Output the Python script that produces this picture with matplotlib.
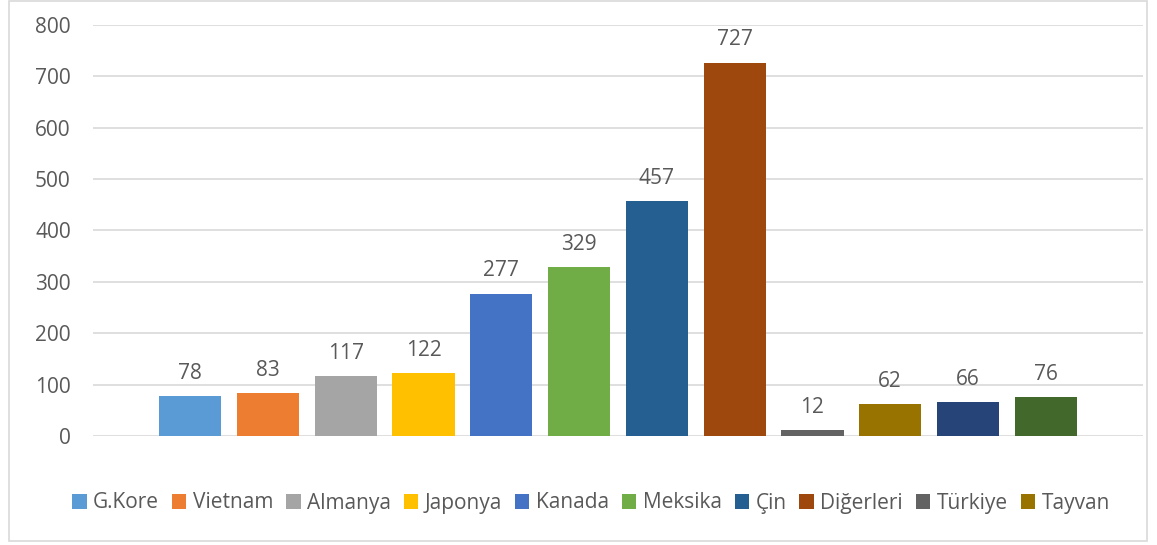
import matplotlib
matplotlib.use("Agg")
import matplotlib.pyplot as plt
from matplotlib.patches import Rectangle, Patch

categories = ["G.Kore", "Vietnam", "Almanya", "Japonya", "Kanada", "Meksika",
              "Çin", "Diğerleri", "Türkiye", "Tayvan", "Diğer 1", "Diğer 2"]
values = [78, 83, 117, 122, 277, 329, 457, 727, 12, 62, 66, 76]
colors = ["#5B9BD5", "#ED7D31", "#A5A5A5", "#FFC000", "#4472C4", "#70AD47",
          "#255E91", "#9E480E", "#636363", "#997300", "#264478", "#43682B"]
legend_count = 10
yticks = [0, 100, 200, 300, 400, 500, 600, 700, 800]

plt.rcParams['font.family'] = ['Open Sans', 'DejaVu Sans']
txt = "#595959"
fs = 15

fig = plt.figure(figsize=(11.57, 5.45), dpi=100)
fig.patches.append(Rectangle((9/1157, 4/545), 1138/1157, 540/545, transform=fig.transFigure,
                             fill=False, edgecolor="#D9D9D9", linewidth=1.2))
ax = fig.add_axes([93/1157, 109/545, 1050/1157, 411/545])

x = list(range(len(values)))
bars = ax.bar(x, values, width=0.8, color=colors, zorder=3)
for xi, v in zip(x, values):
    ax.text(xi, v + 24, str(v), ha="center", va="bottom", fontsize=fs, color=txt)

ax.set_xlim(-1.25, len(values) - 1 + 1.25)
ax.set_ylim(0, 800)
ax.set_yticks(yticks)
ax.set_yticklabels([str(t) for t in yticks], fontsize=fs, color=txt)
ax.tick_params(axis="y", length=0, pad=16)
ax.set_xticks([])
ax.grid(axis="y", color="#D9D9D9", linewidth=1.2, zorder=0)
for s in ax.spines.values():
    s.set_visible(False)

handles = [Patch(facecolor=colors[i], label=categories[i]) for i in range(legend_count)]
fig.legend(handles=handles, loc="center", bbox_to_anchor=(591/1157, 1 - 503/545),
           ncol=legend_count, frameon=False, fontsize=fs, labelcolor=txt,
           handlelength=0.7, handleheight=0.7, handletextpad=0.3, columnspacing=0.62)

fig.savefig("out.png", dpi=100)
